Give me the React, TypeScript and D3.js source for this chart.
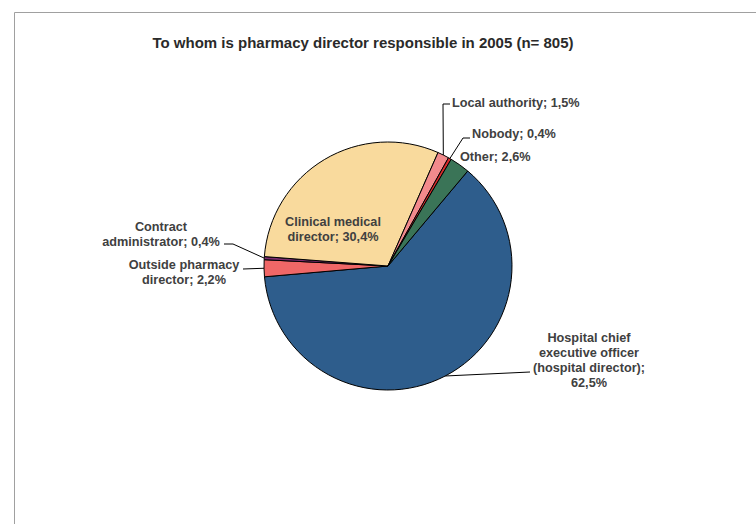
import React from 'react';
import * as d3 from 'd3';

const WIDTH = 756;
const HEIGHT = 524;

const categories = [
    'Hospital chief executive officer (hospital director)',
    'Outside pharmacy director',
    'Contract administrator',
    'Clinical medical director',
    'Local authority',
    'Nobody',
    'Other',
];
const shares = [62.5, 2.2, 0.4, 30.4, 1.5, 0.4, 2.6];
const colors = ['#2E5D8C', '#F06767', '#7B2C6E', '#F9DA9D', '#F28A8C', '#D52B2B', '#3A7457'];

// label text lines per slice
const labelLines = [
    ['Hospital chief', 'executive officer', '(hospital director);', '62,5%'],
    ['Outside pharmacy', 'director; 2,2%'],
    ['Contract', 'administrator; 0,4%'],
    ['Clinical medical', 'director; 30,4%'],
    ['Local authority; 1,5%'],
    ['Nobody; 0,4%'],
    ['Other; 2,6%'],
];

const TITLE = 'To whom is pharmacy director responsible in 2005 (n= 805)';
const START_ANGLE = 40 * Math.PI / 180;

const cx = 388;
const cy = 266;
const radius = 124;
const FONT = '"Liberation Sans", Arial, sans-serif';
const TEXT_COLOR = '#404040';

// label layout: x, first line y, anchor, leader path (label side points)
const labelLayout = [
    {x: 589, y: 338, anchor: 'middle', leader: [[530, 372]]},
    {x: 184, y: 265, anchor: 'middle', leader: [[243, 269]]},
    {x: 161, y: 227, anchor: 'middle', leader: [[224, 244], [233, 244]]},
    {x: 333, y: 222, anchor: 'middle', leader: null},
    {x: 452, y: 103, anchor: 'start', leader: [[450, 104], [443, 104]]},
    {x: 472, y: 134, anchor: 'start', leader: [[470, 138], [463, 138]]},
    {x: 460, y: 157, anchor: 'start', leader: null},
];

export default function App() {
    const pie = d3.pie<number>()
        .sort(null)
        .value(d => d)
        .startAngle(START_ANGLE)
        .endAngle(START_ANGLE + 2 * Math.PI);
    const arcs = pie(shares);
    const arc = d3.arc<d3.PieArcDatum<number>>().innerRadius(0).outerRadius(radius);

    return (
        <svg width={WIDTH} height={HEIGHT}
             style={{position: 'absolute', left: 0, top: 0, display: 'block', background: '#fff'}}>
            <path d={`M14.5,${HEIGHT} L14.5,12.5 L${WIDTH},12.5`} fill="none" stroke="#A0A0A0" strokeWidth={1}/>
            <text x={363} y={42} textAnchor="middle" dominantBaseline="central"
                  fontFamily={FONT} fontWeight="bold" fontSize={15} fill="#2a2a2a">
                {TITLE}
            </text>
            <g transform={`translate(${cx},${cy})`}>
                {arcs.map((a, i) => (
                    <path key={categories[i]} d={arc(a) || ''} fill={colors[i]}
                          stroke="#000" strokeWidth={1} strokeLinejoin="round"/>
                ))}
            </g>
            {arcs.map((a, i) => {
                const layout = labelLayout[i];
                if (!layout.leader) {
                    return null;
                }
                const mid = (a.startAngle + a.endAngle) / 2;
                const px = cx + radius * Math.sin(mid);
                const py = cy - radius * Math.cos(mid);
                const pts = [...layout.leader, [px, py]];
                return (
                    <path key={`leader-${i}`} d={d3.line()(pts as [number, number][]) || ''}
                          fill="none" stroke="#000" strokeWidth={1}/>
                );
            })}
            {labelLines.map((lines, i) => {
                const layout = labelLayout[i];
                return (
                    <text key={`label-${i}`} fontFamily={FONT} fontWeight="bold" fontSize={12.7}
                          fill={TEXT_COLOR} textAnchor={layout.anchor}>
                        {lines.map((line, j) => (
                            <tspan key={j} x={layout.x} y={layout.y + j * 15} dominantBaseline="central">
                                {line}
                            </tspan>
                        ))}
                    </text>
                );
            })}
        </svg>
    );
}
